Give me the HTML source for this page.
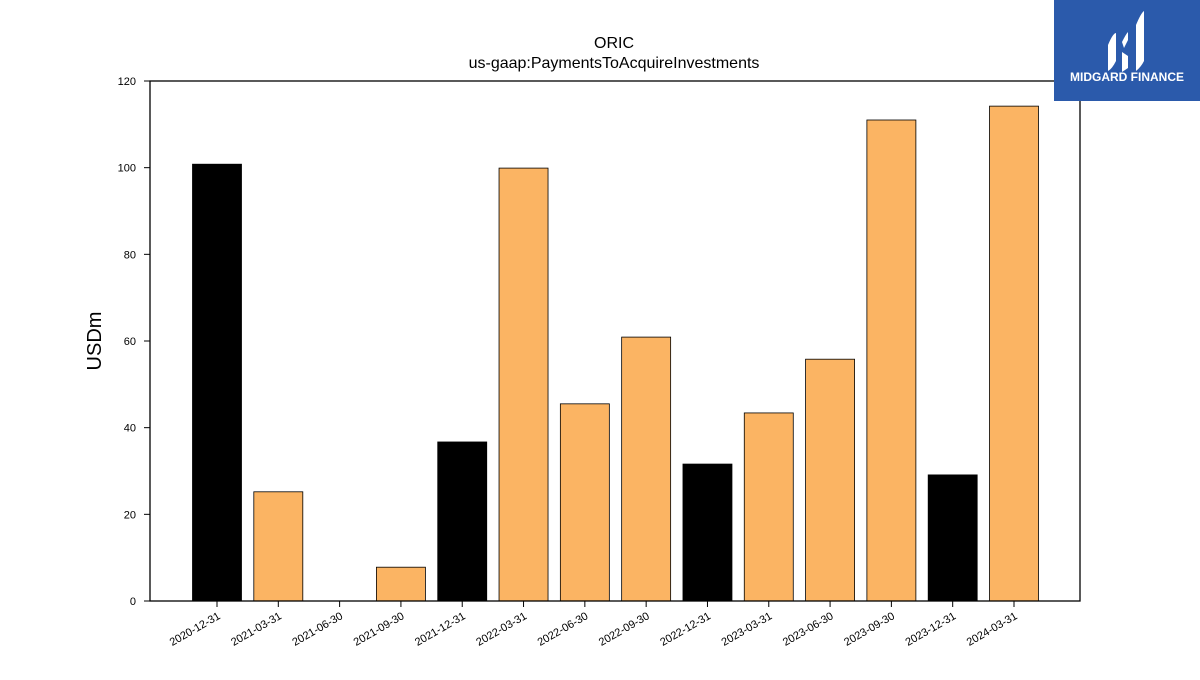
<!DOCTYPE html>
<html><head><meta charset="utf-8"><style>
body{margin:0;background:#fff;width:1200px;height:675px;overflow:hidden;font-family:"Liberation Sans",sans-serif}
</style></head><body>
<svg width="1200" height="675" xmlns="http://www.w3.org/2000/svg">
<text x="614" y="48" text-anchor="middle" font-size="16">ORIC</text>
<text x="614" y="68" text-anchor="middle" font-size="16">us-gaap:PaymentsToAcquireInvestments</text>
<text transform="translate(101,341) rotate(-90)" text-anchor="middle" font-size="20">USDm</text>
<g id="bars"></g>
<g id="yticks"></g>
<g id="xticks"></g>
<rect x="150" y="81" width="930" height="520" fill="none" stroke="#000" stroke-width="1.3"/>
<g>
<rect x="1054" y="0" width="146" height="101" fill="#2b5aab"/>
<path d="M1108 45 q5-12 8-12 v28 q-4 8-8 10z M1122 42 q4-8 6-10 v8 l-4 8z M1122 52 l6 4 v12 l-6 4z M1136 25 q5-12 8-14 v50 q-3 6-8 10z" fill="#fff"/>
<text x="1127" y="81" text-anchor="middle" font-size="12" font-weight="bold" fill="#fff">MIDGARD FINANCE</text>
</g>
</svg>
<script>
const categories=["2020-12-31","2021-03-31","2021-06-30","2021-09-30","2021-12-31","2022-03-31","2022-06-30","2022-09-30","2022-12-31","2023-03-31","2023-06-30","2023-09-30","2023-12-31","2024-03-31"];
const values=[100.8,25.2,0,7.8,36.7,99.9,45.5,60.9,31.6,43.4,55.8,111,29.1,114.2];
const annual=[true,false,false,false,true,false,false,false,true,false,false,false,true,false];
const yTicks=[0,20,40,60,80,100,120];
const NS="http://www.w3.org/2000/svg";
const y=v=>601-v*520/120;
const x=i=>217+i*(1014-217)/13;
const bw=49;
const bars=document.getElementById('bars'),yt=document.getElementById('yticks'),xt=document.getElementById('xticks');
values.forEach((v,i)=>{
 const r=document.createElementNS(NS,'rect');
 
 
 r.setAttribute('x',x(i)-bw/2);r.setAttribute('y',y(v));r.setAttribute('width',bw);r.setAttribute('height',Math.max(0,601-y(v)));
 r.setAttribute('fill',annual[i]?'#000':'#fbb463');r.setAttribute('stroke','#000');r.setAttribute('stroke-width','0.8');
 bars.appendChild(r);
});
yTicks.forEach(t=>{
 const l=document.createElementNS(NS,'line');
 
 
 l.setAttribute('x1',144);l.setAttribute('x2',150);l.setAttribute('y1',y(t));l.setAttribute('y2',y(t));l.setAttribute('stroke','#000');
 yt.appendChild(l);
 const s=document.createElementNS(NS,'text');
 
 
 s.setAttribute('x',136);s.setAttribute('y',y(t)+4);s.setAttribute('text-anchor','end');s.setAttribute('font-size','11');
 s.textContent=t;yt.appendChild(s);
});
categories.forEach((c,i)=>{
 const l=document.createElementNS(NS,'line');
 
 
 l.setAttribute('x1',x(i));l.setAttribute('x2',x(i));l.setAttribute('y1',601);l.setAttribute('y2',607);l.setAttribute('stroke','#000');
 xt.appendChild(l);
 const s=document.createElementNS(NS,'text');
 
 
 s.setAttribute('transform','translate('+(x(i)+4)+',618) rotate(-30)');s.setAttribute('text-anchor','end');s.setAttribute('font-size','11');
 s.textContent=c;xt.appendChild(s);
});
</script>
</body></html>
